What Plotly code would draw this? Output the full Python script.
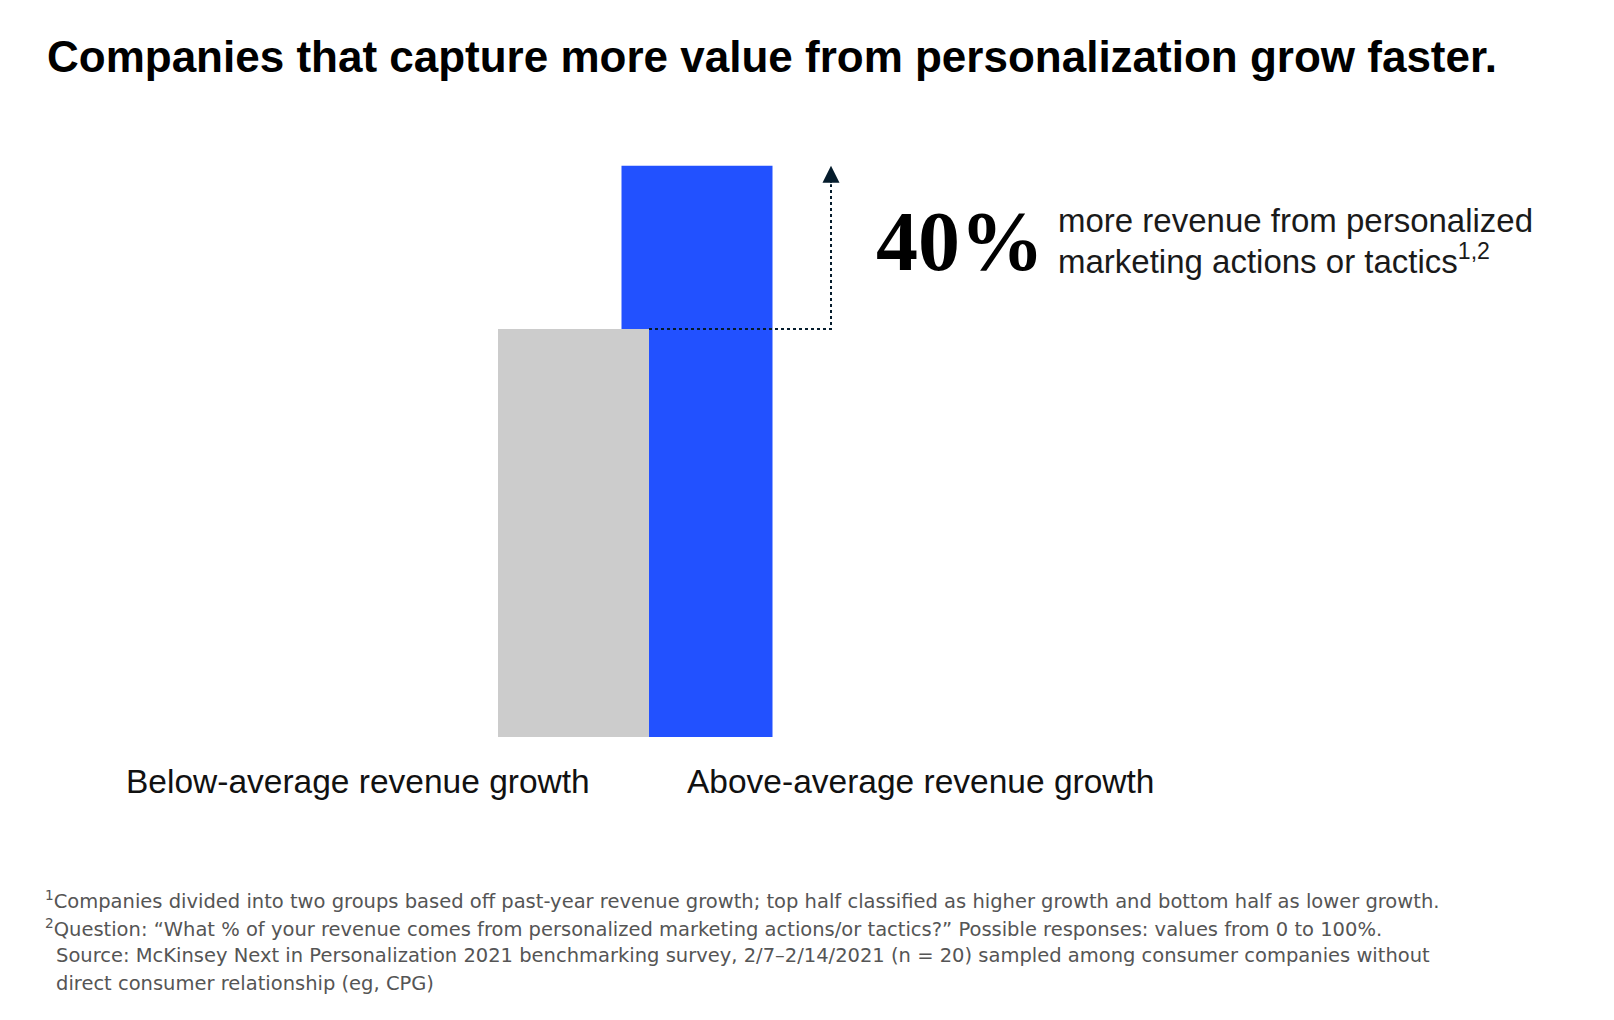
import plotly.graph_objects as go

W, H = 1614, 1020
OFF = 8  # the page body margin pushes the figure 8px right and down

# data
groups = ["Below-average revenue growth", "Above-average revenue growth"]
group_pos = [0, 1]
revenue_index = [1.0, 1.4]  # revenue from personalization, below-average group = 1
bar_colors = ["#cccccc", "#2251ff"]

title_text = "Companies that capture more value from personalization grow faster."
uplift_lines = ["more revenue from personalized", "marketing actions or tactics<sup>1,2</sup>"]
footnotes = [
    "<sup>1</sup>Companies divided into two groups based off past-year revenue growth; top half classified as higher growth and bottom half as lower growth.",
    "<sup>2</sup>Question: \u201cWhat % of your revenue comes from personalized marketing actions/or tactics?\u201d Possible responses: values from 0 to 100%.",
    "Source: McKinsey Next in Personalization 2021 benchmarking survey, 2/7\u20132/14/2021 (n = 20) sampled among consumer companies without",
    "direct consumer relationship (eg, CPG)",
]

NAVY = "#051c2c"
BAR_W = 1.2227
ARROW_X = 2.085


def px(x):
    return (x - OFF) / W


def py(y):
    return 1 - (y - OFF) / H


uplift = round((revenue_index[1] / revenue_index[0] - 1) * 100)

fig = go.Figure()

# blue first so the grey bar sits on top of it
fig.add_trace(go.Bar(x=[group_pos[1]], y=[revenue_index[1]], width=BAR_W,
                     marker=dict(color=bar_colors[1], line=dict(width=0)),
                     name=groups[1], hoverinfo="name+y"))
fig.add_trace(go.Bar(x=[group_pos[0]], y=[revenue_index[0]], width=BAR_W,
                     marker=dict(color=bar_colors[0], line=dict(width=0)),
                     name=groups[0], hoverinfo="name+y"))

# dotted connector from grey level up to the blue level
head = 0.045
fig.add_trace(go.Scatter(
    x=[group_pos[0] + BAR_W / 2, ARROW_X, ARROW_X],
    y=[revenue_index[0], revenue_index[0], revenue_index[1] - head],
    mode="lines", line=dict(color=NAVY, width=2, dash="3px,3px"),
    hoverinfo="skip"))

annotations = [
    dict(x=ARROW_X, y=revenue_index[1], ax=ARROW_X, ay=revenue_index[1] - head,
         xref="x", yref="y", axref="x", ayref="y", text="", showarrow=True,
         arrowhead=2, arrowsize=1.7, arrowwidth=2, arrowcolor=NAVY),
    dict(x=px(45), y=py(56), xref="paper", yref="paper", xanchor="left", yanchor="middle",
         text="<b>" + title_text + "</b>", showarrow=False,
         font=dict(family="Liberation Sans", size=44, color="#000000")),
    dict(x=px(874), y=py(242), xref="paper", yref="paper", xanchor="left", yanchor="middle",
         text="<b>%d%%</b>" % uplift, showarrow=False,
         font=dict(family="Liberation Serif", size=84, color="#000000")),
]

for i, line in enumerate(uplift_lines):
    annotations.append(dict(x=px(1056), y=py(220.5 + 38 * i), xref="paper", yref="paper",
                            xanchor="left", yanchor="middle", text=line, showarrow=False,
                            font=dict(family="Liberation Sans", size=33, color="#1a1a1a")))

label_x = [124, 685]
for g, lx in zip(groups, label_x):
    annotations.append(dict(x=px(lx), y=py(781), xref="paper", yref="paper",
                            xanchor="left", yanchor="middle", text=g, showarrow=False,
                            font=dict(family="Liberation Sans", size=33.5, color="#111111")))

note_x = [43, 43, 54, 54]
for i, (note, nx) in enumerate(zip(footnotes, note_x)):
    annotations.append(dict(x=px(nx), y=py(900 + 27.7 * i), xref="paper", yref="paper",
                            xanchor="left", yanchor="middle", text=note, showarrow=False,
                            font=dict(family="DejaVu Sans", size=19.5, color="#555555")))

# pixel -> data: grey bar centre at 573.5px, 123.5px per unit; baseline at 737px, 408px per unit
fig.update_layout(
    width=W, height=H,
    margin=dict(l=0, r=0, t=0, b=0),
    paper_bgcolor="white", plot_bgcolor="white",
    barmode="overlay",
    showlegend=False,
    xaxis=dict(range=[-(573.5 - OFF) / 123.5, (W - 573.5 + OFF) / 123.5],
               visible=False, fixedrange=True),
    yaxis=dict(range=[-(H - 737 + OFF) / 408, (737 - OFF) / 408],
               visible=False, fixedrange=True),
    annotations=annotations,
)

fig.write_html("out.html")
